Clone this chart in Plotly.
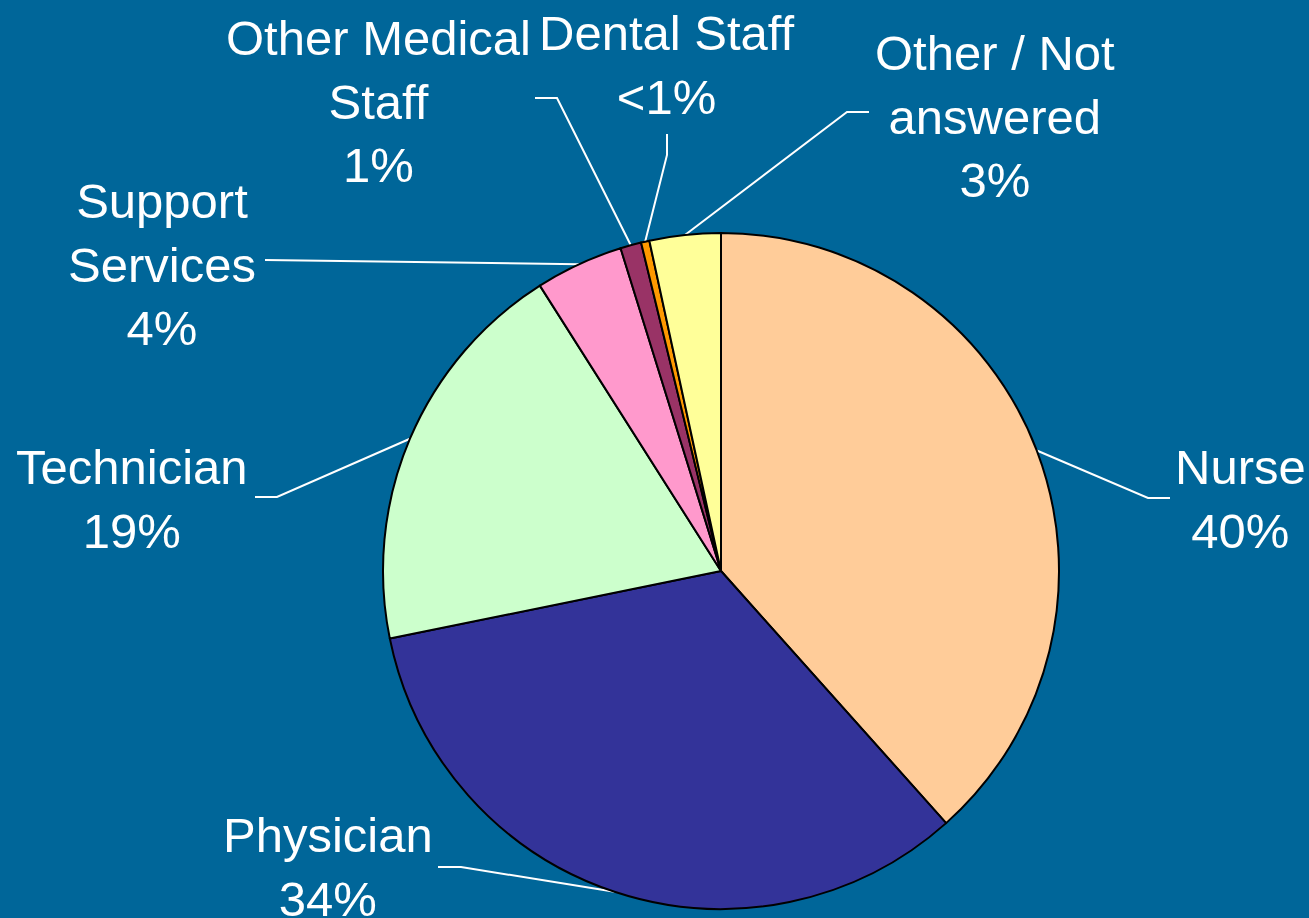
import math
import plotly.graph_objects as go

# slices, clockwise from 12 o'clock
categories = ["Nurse", "Physician", "Technician", "Support<br>Services",
              "Other Medical<br>Staff", "Dental Staff", "Other / Not<br>answered"]
values = [38.4, 33.4, 19.2, 4.2, 1.0, 0.4, 3.4]
pct_labels = ["40%", "34%", "19%", "4%", "1%", "<1%", "3%"]
colors = ["#FFCC99", "#333399", "#CCFFCC", "#FF99CC", "#993366", "#FF9900", "#FFFF99"]

W, H = 1309, 918
cx, cy, R = 721, 571, 338   # pie centre / radius in pixels
bg = "#006699"

# label centres (px) and leader line elbows (px): layout only
label_pos = [(1240, 499), (328, 867), (132, 499), (162, 264),
             (378, 101), (667, 65), (995, 116)]
elbows = [[(1170, 498), (1148, 498)],
          [(438, 867), (461, 867)],
          [(255, 497), (277, 497)],
          [(265, 260)],
          [(535, 98), (557, 98)],
          [(667, 134), (667, 155)],
          [(869, 112), (847, 112)]]

fig = go.Figure()

fig.add_trace(go.Pie(
    values=values, labels=categories, sort=False, direction="clockwise",
    marker=dict(colors=colors, line=dict(color="black", width=2)),
    textinfo="none", hoverinfo="skip", showlegend=False,
    domain=dict(x=[(cx - R) / W, (cx + R) / W],
                y=[(H - cy - R) / H, (H - cy + R) / H]),
))

total = sum(values)
cum = 0
for i, v in enumerate(values):
    mid = (cum + v / 2) / total * 2 * math.pi
    cum += v
    ax = cx + R * math.sin(mid)
    ay = cy - R * math.cos(mid)
    pts = elbows[i] + [(ax, ay)]
    fig.add_trace(go.Scatter(
        x=[p[0] for p in pts], y=[p[1] for p in pts], mode="lines",
        line=dict(color="white", width=2), hoverinfo="skip", showlegend=False,
    ))
    fig.add_annotation(
        x=label_pos[i][0], y=label_pos[i][1], xref="x", yref="y",
        text=categories[i] + "<br>" + pct_labels[i], showarrow=False,
        xanchor="center", yanchor="middle", align="center",
        font=dict(family="Liberation Sans, Arial, sans-serif", size=49, color="white"),
    )

fig.update_layout(
    width=W, height=H,
    margin=dict(l=0, r=0, t=0, b=0),
    paper_bgcolor=bg, plot_bgcolor=bg,
    xaxis=dict(range=[0, W], visible=False, domain=[0, 1], fixedrange=True),
    yaxis=dict(range=[H, 0], visible=False, domain=[0, 1], fixedrange=True),
)

# page body has a default 8px margin, drop it so the chart fills the window
fig.write_html("out.html", config={"displayModeBar": False},
               post_script="document.body.style.margin='0';document.body.style.overflow='hidden';")
